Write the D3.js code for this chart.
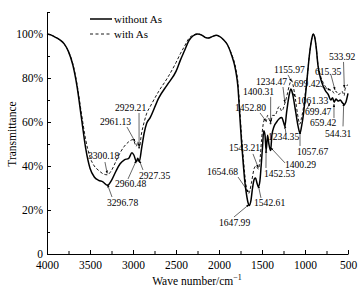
<!DOCTYPE html>
<html><head><meta charset="utf-8">
<script src="https://cdn.jsdelivr.net/npm/d3@7"></script>
<style>body{margin:0;background:#fff}svg{display:block}text{font-family:"Liberation Serif","Times New Roman",serif;fill:#000}</style>
</head><body><svg id="c" width="364" height="292"></svg>
<script>
// Series: "without As" (solid)
const woWave = [4000,3950,3900,3850,3800,3750,3700,3650,3600,3550,3500,3450,3400,3350,3297,3250,3200,3150,3100,3050,3012,2990,2960,2945,2927,2900,2870,2840,2800,2700,2600,2500,2450,2400,2350,2300,2250,2200,2150,2120,2080,2030,2000,1950,1900,1850,1820,1800,1780,1760,1740,1720,1700,1680,1660,1648,1630,1610,1590,1575,1560,1543,1525,1510,1495,1480,1465,1452,1435,1420,1400,1385,1360,1330,1300,1270,1250,1234,1215,1190,1165,1156,1140,1110,1080,1058,1040,1020,1000,975,950,925,905,890,870,850,820,790,760,730,700,680,660,640,615,590,570,544,525,500];
const woT    = [100,99.5,98.5,97.3,95.5,92,86,76,62,48,39,35,33.5,32.8,31.2,33.5,37.5,41,42.8,43.5,46,45,42,43.5,42,48,55,59.5,62,71,77,83,88,92.5,97,99.2,100,99.5,98.3,98.2,98.8,99.4,99,97.5,95,90,86,82,76,64,52,42,33,27,23,22,24,30,34,34.5,32.5,30.5,33,40,48,56,54,47,54,50,47,54,58,60,61.5,62,60,58,64,71,75,74.5,72,65,58,55,58,63,70,80,90,97,100,99,94,86,80,76.5,74,72.5,70,71,69,70.5,69.5,70,69,68,69,73];
// Series: "with As" (dashed)
const wWave = [4000,3950,3900,3850,3800,3750,3700,3650,3600,3550,3500,3450,3400,3350,3300,3250,3200,3150,3100,3050,3000,2961,2945,2929,2900,2870,2840,2800,2700,2600,2500,2450,2400,2350,2300,2250,2200,2150,2120,2080,2030,2000,1950,1900,1850,1820,1800,1780,1760,1740,1720,1700,1680,1655,1640,1620,1590,1570,1543,1525,1505,1490,1470,1453,1435,1415,1400,1380,1350,1300,1270,1234,1210,1180,1156,1140,1110,1080,1061,1040,1020,1000,975,950,925,905,890,870,850,820,790,760,730,700,680,660,640,615,590,570,544,534,500];
const wT    = [100,99.5,98.5,97.3,95.5,92,86.5,77,64,52,44,40,38,36.5,36,38,42,46,49,51,52,49,51,48,55,60,64,67,74,80,87,91,94.5,98,99.5,100,99.5,98.3,98.2,98.8,99.4,99,97.5,95,90.5,87,83.5,78,67,55,45,36,30,27.5,29,33,39,40,38.6,42,52,58,61,60,63,61,59,63,63,67,65,68.5,72,77,79,77,70,62,59,62,66,72,80,90,97,100,99,94,86.5,81,78,76,75,74.5,74,73,74,72.5,73,74,72,75,77];

const legendNames = ["without As","with As"];
const xTicks = [4000,3500,3000,2500,2000,1500,1000,500];
const xMinor = [3750,3250,2750,2250,1750,1250,750];
const yTicks = [0,20,40,60,80,100];
const yMinor = [10,30,50,70,90,110];

// Annotations: label, arrow tip (wave, T), leader start (wave, T), text start (wave, T)
const annLabels = ["2929.21","2961.13","3300.18","3296.78","2960.48","2927.35","1654.68","1647.99","1543.21","1542.61","1452.80","1452.53","1400.31","1400.29","1234.47","1234.35","1155.97","1061.33","1057.67","699.42","699.47","659.42","615.35","544.31","533.92"];
const annTip   = [[2929,48.5],[2975,51],[3300,36.6],[3297,31.6],[2960,42.6],[2927,42.6],[1655,28],[1648,22.6],[1543,39.2],[1543,31.2],[1453,60.4],[1452.5,47.4],[1400,59.4],[1400,48.4],[1234,68.8],[1234,58.4],[1156,78.4],[1140,73],[1058,55.8],[700,74.4],[942,68.6],[663,68.2],[651,74.5],[550,68.6],[543,75.5]];
const annFrom  = [[2930,64.1],[3070,57.7],[3326,41.8],[3244,25.9],[3058,34.1],[2884,38.2],[1779,35],[1826,16.8],[1605,45.5],[1512,25.5],[1523,64.1],[1454,39.1],[1399,71.4],[1233,41.4],[1256,75.9],[1221,54.5],[1198,81.4],[1105,71.4],[1058,49.1],[826,76.4],[977,66],[663,61.8],[698,81.4],[558,58],[552,87.3]];
const annText  = [[3209,65.2],[3384,58.6],[3523,43],[3302,21.8],[3209,30.5],[2930,34.3],[2140,35.7],[2000,12.7],[1884,46.6],[1593,21.8],[1814,65.2],[1477,34.8],[1721,72.3],[1233,39],[1570,77],[1430,51.6],[1360,82.5],[1093,68.4],[1093,45.2],[1128,75.9],[1000,63.2],[942,58.4],[884,81.4],[767,53.4],[721,88.2]];

const svg = d3.select("#c");
const x = d3.scaleLinear().domain([4000,500]).range([47,348]);
const y = d3.scaleLinear().domain([0,110]).range([254,12]);

const defs = svg.append("defs");
defs.append("marker").attr("id","ah").attr("viewBox","0 0 10 10").attr("refX",10).attr("refY",5)
  .attr("markerWidth",5).attr("markerHeight",5).attr("orient","auto")
  .append("path").attr("d","M0,1L10,5L0,9Z").attr("fill","#000");

// axes
const gx = svg.append("g").attr("transform","translate(0,254)")
  .call(d3.axisBottom(x).tickValues(xTicks).tickSize(-4).tickSizeOuter(0).tickFormat(d3.format("d")));
svg.append("g").attr("transform","translate(0,254)")
  .call(d3.axisBottom(x).tickValues(xMinor).tickSize(-3).tickSizeOuter(0).tickFormat(""))
  .select(".domain").remove();
gx.selectAll("text").attr("font-size",11.5).attr("dy","0.9em").attr("y",5).attr("font-family","Liberation Serif");
const gy = svg.append("g").attr("transform","translate(47,0)")
  .call(d3.axisLeft(y).tickValues(yTicks).tickSize(-4).tickSizeOuter(0).tickFormat(d=>d===0?"0":d+"%"));
svg.append("g").attr("transform","translate(47,0)")
  .call(d3.axisLeft(y).tickValues(yMinor).tickSize(-3).tickSizeOuter(0).tickFormat(""))
  .select(".domain").remove();
gy.selectAll("text").attr("font-size",11.5).attr("x",-4).attr("font-family","Liberation Serif");
svg.selectAll(".domain, .tick line").attr("stroke","#000").attr("stroke-width",1);

// lines
const line = d3.line().x(d=>x(d[0])).y(d=>y(d[1])).curve(d3.curveMonotoneX);
svg.append("path").datum(wWave.map((w,i)=>[w,wT[i]])).attr("d",line)
  .attr("fill","none").attr("stroke","#000").attr("stroke-width",0.9).attr("stroke-dasharray","3,2");
svg.append("path").datum(woWave.map((w,i)=>[w,woT[i]])).attr("d",line)
  .attr("fill","none").attr("stroke","#000").attr("stroke-width",1.5);

// annotations
const ann = svg.append("g");
annLabels.forEach((lab,i)=>{
  ann.append("line").attr("x1",x(annFrom[i][0])).attr("y1",y(annFrom[i][1]))
    .attr("x2",x(annTip[i][0])).attr("y2",y(annTip[i][1]))
    .attr("stroke","#000").attr("stroke-width",0.6).attr("marker-end","url(#ah)");
  ann.append("text").attr("x",x(annText[i][0])).attr("y",y(annText[i][1]))
    .attr("font-size",9.6).text(lab);
});

// legend
const lg = svg.append("g");
legendNames.forEach((n,i)=>{
  lg.append("line").attr("x1",90).attr("x2",112).attr("y1",19+i*15).attr("y2",19+i*15)
    .attr("stroke","#000").attr("stroke-width",i===0?1.5:0.9).attr("stroke-dasharray",i===0?null:"3,2.5");
  lg.append("text").attr("x",114).attr("y",19+i*15).attr("dy","0.35em").attr("font-size",11).text(n);
});

// axis titles
svg.append("text").attr("transform","translate(16,134) rotate(-90)").attr("text-anchor","middle")
  .attr("font-size",11.5).text("Transmittance");
const xt = svg.append("text").attr("x",197).attr("y",285).attr("text-anchor","middle").attr("font-size",11.5);
xt.append("tspan").text("Wave number/cm");
xt.append("tspan").attr("dy",-5).attr("font-size",8).text("\u22121");
</script></body></html>
